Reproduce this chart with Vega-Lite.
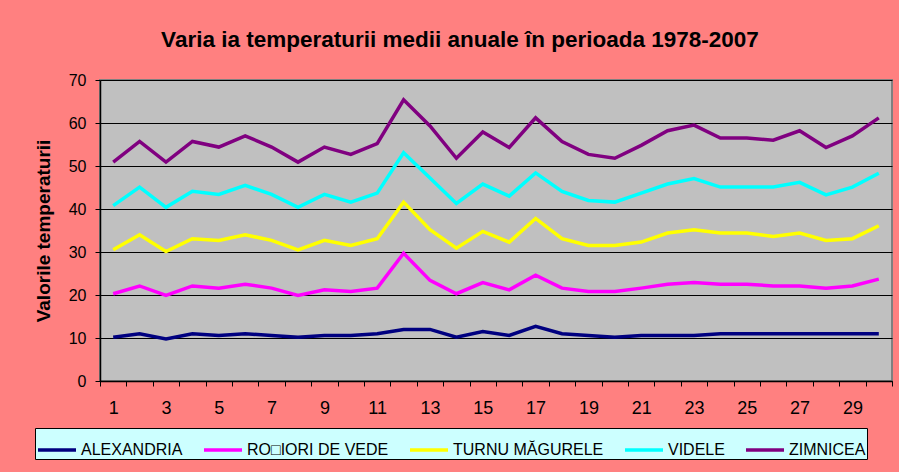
{
  "$schema": "https://vega.github.io/schema/vega-lite/v6.json",
  "width": 792,
  "height": 301,
  "autosize": "none",
  "padding": {"left": 100, "top": 80, "right": 7, "bottom": 91},
  "background": "#FF8080",
  "title": {
    "text": "Varia ia temperaturii medii anuale în perioada 1978-2007",
    "font": "Liberation Sans",
    "fontSize": 22.5,
    "fontWeight": "bold",
    "color": "black",
    "anchor": "middle",
    "frame": "group",
    "dx": -36,
    "offset": 21
  },
  "data": {
    "values": [
      {"an": 1, "ALEXANDRIA": 10.2, "RO□IORI DE VEDE": 20.3, "TURNU MĂGURELE": 30.5, "VIDELE": 40.8, "ZIMNICEA": 50.9},
      {"an": 2, "ALEXANDRIA": 11.0, "RO□IORI DE VEDE": 22.1, "TURNU MĂGURELE": 34.0, "VIDELE": 45.1, "ZIMNICEA": 55.7},
      {"an": 3, "ALEXANDRIA": 9.8, "RO□IORI DE VEDE": 19.9, "TURNU MĂGURELE": 30.1, "VIDELE": 40.4, "ZIMNICEA": 50.9},
      {"an": 4, "ALEXANDRIA": 11.0, "RO□IORI DE VEDE": 22.1, "TURNU MĂGURELE": 33.1, "VIDELE": 44.1, "ZIMNICEA": 55.7},
      {"an": 5, "ALEXANDRIA": 10.6, "RO□IORI DE VEDE": 21.6, "TURNU MĂGURELE": 32.7, "VIDELE": 43.4, "ZIMNICEA": 54.4},
      {"an": 6, "ALEXANDRIA": 11.0, "RO□IORI DE VEDE": 22.5, "TURNU MĂGURELE": 34.0, "VIDELE": 45.5, "ZIMNICEA": 57.0},
      {"an": 7, "ALEXANDRIA": 10.6, "RO□IORI DE VEDE": 21.6, "TURNU MĂGURELE": 32.7, "VIDELE": 43.4, "ZIMNICEA": 54.4},
      {"an": 8, "ALEXANDRIA": 10.2, "RO□IORI DE VEDE": 19.9, "TURNU MĂGURELE": 30.5, "VIDELE": 40.4, "ZIMNICEA": 50.9},
      {"an": 9, "ALEXANDRIA": 10.6, "RO□IORI DE VEDE": 21.2, "TURNU MĂGURELE": 32.7, "VIDELE": 43.4, "ZIMNICEA": 54.4},
      {"an": 10, "ALEXANDRIA": 10.6, "RO□IORI DE VEDE": 20.8, "TURNU MĂGURELE": 31.5, "VIDELE": 41.6, "ZIMNICEA": 52.7},
      {"an": 11, "ALEXANDRIA": 11.0, "RO□IORI DE VEDE": 21.6, "TURNU MĂGURELE": 33.1, "VIDELE": 43.7, "ZIMNICEA": 55.2},
      {"an": 12, "ALEXANDRIA": 12.0, "RO□IORI DE VEDE": 29.7, "TURNU MĂGURELE": 41.6, "VIDELE": 53.1, "ZIMNICEA": 65.4},
      {"an": 13, "ALEXANDRIA": 12.0, "RO□IORI DE VEDE": 23.4, "TURNU MĂGURELE": 35.2, "VIDELE": 47.2, "ZIMNICEA": 59.3},
      {"an": 14, "ALEXANDRIA": 10.2, "RO□IORI DE VEDE": 20.3, "TURNU MĂGURELE": 30.9, "VIDELE": 41.3, "ZIMNICEA": 51.8},
      {"an": 15, "ALEXANDRIA": 11.5, "RO□IORI DE VEDE": 22.9, "TURNU MĂGURELE": 34.8, "VIDELE": 45.8, "ZIMNICEA": 57.9},
      {"an": 16, "ALEXANDRIA": 10.6, "RO□IORI DE VEDE": 21.2, "TURNU MĂGURELE": 32.3, "VIDELE": 43.0, "ZIMNICEA": 54.3},
      {"an": 17, "ALEXANDRIA": 12.7, "RO□IORI DE VEDE": 24.6, "TURNU MĂGURELE": 37.8, "VIDELE": 48.4, "ZIMNICEA": 61.2},
      {"an": 18, "ALEXANDRIA": 11.0, "RO□IORI DE VEDE": 21.6, "TURNU MĂGURELE": 33.1, "VIDELE": 44.1, "ZIMNICEA": 55.7},
      {"an": 19, "ALEXANDRIA": 10.6, "RO□IORI DE VEDE": 20.8, "TURNU MĂGURELE": 31.5, "VIDELE": 42.0, "ZIMNICEA": 52.7},
      {"an": 20, "ALEXANDRIA": 10.2, "RO□IORI DE VEDE": 20.8, "TURNU MĂGURELE": 31.5, "VIDELE": 41.6, "ZIMNICEA": 51.8},
      {"an": 21, "ALEXANDRIA": 10.6, "RO□IORI DE VEDE": 21.6, "TURNU MĂGURELE": 32.3, "VIDELE": 43.7, "ZIMNICEA": 54.8},
      {"an": 22, "ALEXANDRIA": 10.6, "RO□IORI DE VEDE": 22.5, "TURNU MĂGURELE": 34.4, "VIDELE": 45.8, "ZIMNICEA": 58.2},
      {"an": 23, "ALEXANDRIA": 10.6, "RO□IORI DE VEDE": 22.9, "TURNU MĂGURELE": 35.2, "VIDELE": 47.1, "ZIMNICEA": 59.5},
      {"an": 24, "ALEXANDRIA": 11.0, "RO□IORI DE VEDE": 22.5, "TURNU MĂGURELE": 34.4, "VIDELE": 45.1, "ZIMNICEA": 56.5},
      {"an": 25, "ALEXANDRIA": 11.0, "RO□IORI DE VEDE": 22.5, "TURNU MĂGURELE": 34.4, "VIDELE": 45.1, "ZIMNICEA": 56.5},
      {"an": 26, "ALEXANDRIA": 11.0, "RO□IORI DE VEDE": 22.1, "TURNU MĂGURELE": 33.6, "VIDELE": 45.1, "ZIMNICEA": 56.0},
      {"an": 27, "ALEXANDRIA": 11.0, "RO□IORI DE VEDE": 22.1, "TURNU MĂGURELE": 34.4, "VIDELE": 46.2, "ZIMNICEA": 58.2},
      {"an": 28, "ALEXANDRIA": 11.0, "RO□IORI DE VEDE": 21.6, "TURNU MĂGURELE": 32.7, "VIDELE": 43.3, "ZIMNICEA": 54.3},
      {"an": 29, "ALEXANDRIA": 11.0, "RO□IORI DE VEDE": 22.1, "TURNU MĂGURELE": 33.1, "VIDELE": 45.1, "ZIMNICEA": 57.0},
      {"an": 30, "ALEXANDRIA": 11.0, "RO□IORI DE VEDE": 23.7, "TURNU MĂGURELE": 36.1, "VIDELE": 48.3, "ZIMNICEA": 61.2}
    ]
  },
  "transform": [
    {"fold": ["ALEXANDRIA", "RO□IORI DE VEDE", "TURNU MĂGURELE", "VIDELE", "ZIMNICEA"], "as": ["statie", "valoare"]}
  ],
  "mark": {"type": "line", "strokeWidth": 3.5, "strokeJoin": "miter"},
  "encoding": {
    "x": {
      "field": "an",
      "type": "quantitative",
      "scale": {"domain": [0.5, 30.5], "nice": false, "zero": false},
      "axis": {
        "title": null,
        "grid": false,
        "values": [0.5, 1.5, 2.5, 3.5, 4.5, 5.5, 6.5, 7.5, 8.5, 9.5, 10.5, 11.5, 12.5, 13.5, 14.5, 15.5, 16.5, 17.5, 18.5, 19.5, 20.5, 21.5, 22.5, 23.5, 24.5, 25.5, 26.5, 27.5, 28.5, 29.5, 30.5],
        "labelExpr": "(datum.value + 0.5) % 2 == 1 && datum.value < 30 ? format(datum.value + 0.5, 'd') : ''",
        "labelOffset": 13.2,
        "labelFlush": false,
        "labelOverlap": false,
        "labelBound": false,
        "tickSize": 5,
        "tickColor": "black",
        "domainColor": "black",
        "domainWidth": 1.5,
        "labelPadding": 13,
        "labelFont": "Liberation Sans",
        "labelFontSize": 18,
        "labelColor": "black"
      }
    },
    "y": {
      "field": "valoare",
      "type": "quantitative",
      "scale": {"domain": [0, 70], "nice": false},
      "axis": {
        "title": "Valorile temperaturii",
        "titleFont": "Liberation Sans",
        "titleFontSize": 19,
        "titleFontWeight": "bold",
        "titleColor": "black",
        "titlePadding": 15,
        "values": [0, 10, 20, 30, 40, 50, 60, 70],
        "grid": true,
        "gridColor": "black",
        "gridWidth": 1,
        "tickSize": 5,
        "tickColor": "black",
        "domainColor": "black",
        "domainWidth": 1.5,
        "labelPadding": 9,
        "labelFont": "Liberation Sans",
        "labelFontSize": 16,
        "labelColor": "black"
      }
    },
    "color": {
      "field": "statie",
      "type": "nominal",
      "scale": {
        "domain": ["ALEXANDRIA", "RO□IORI DE VEDE", "TURNU MĂGURELE", "VIDELE", "ZIMNICEA"],
        "range": ["#000080", "#FF00FF", "#FFFF00", "#00FFFF", "#800080"]
      },
      "legend": {
        "title": null,
        "orient": "none",
        "legendX": -65,
        "legendY": 348,
        "direction": "horizontal",
        "symbolType": "stroke",
        "symbolSize": 1444,
        "symbolStrokeWidth": 3.5,
        "labelFont": "Liberation Sans",
        "labelFontSize": 16,
        "labelColor": "black",
        "labelOffset": 3,
        "columnPadding": 14,
        "fillColor": "#CCFFFF",
        "strokeColor": "black",
        "padding": 1
      }
    }
  },
  "config": {
    "view": {"fill": "#C0C0C0", "stroke": "#808080", "strokeWidth": 2}
  }
}
